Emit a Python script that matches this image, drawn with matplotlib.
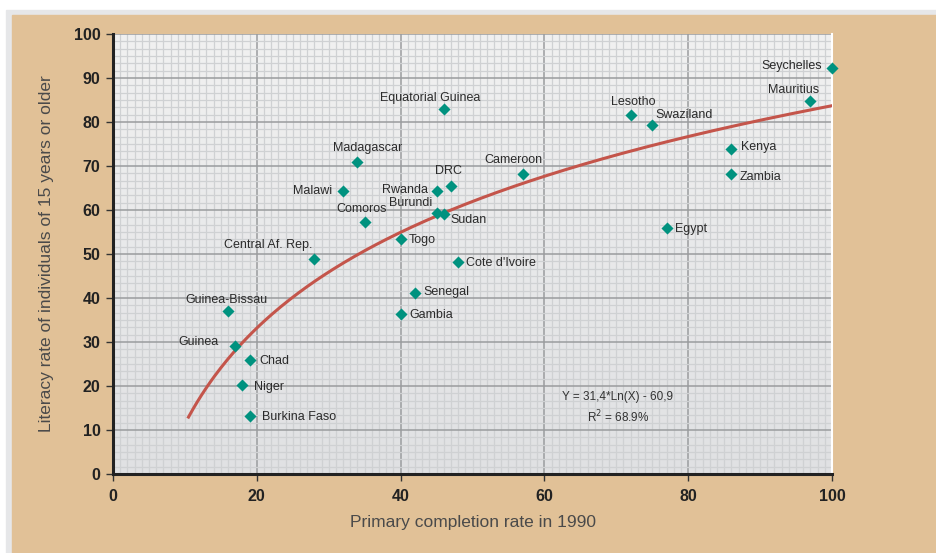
import numpy as np
import matplotlib.pyplot as plt
from matplotlib.ticker import MultipleLocator
from matplotlib.colors import LinearSegmentedColormap

countries = ['Seychelles', 'Mauritius', 'Lesotho', 'Swaziland', 'Kenya', 'Zambia',
             'Egypt', 'Equatorial Guinea', 'Cameroon', 'Madagascar', 'Malawi',
             'Rwanda', 'DRC', 'Burundi', 'Sudan', 'Comoros', 'Togo',
             'Central Af. Rep.', "Cote d'Ivoire", 'Senegal', 'Gambia',
             'Guinea-Bissau', 'Guinea', 'Chad', 'Niger', 'Burkina Faso']
completion = [100, 97, 72, 75, 86, 86, 77, 46, 57, 34, 32, 45, 47, 45, 46, 35, 40,
              28, 48, 42, 40, 16, 17, 19, 18, 19]
literacy = [92.3, 84.8, 81.6, 79.3, 73.9, 68.2, 55.9, 83, 68.2, 70.9, 64.3, 64.3,
            65.5, 59.3, 59.1, 57.3, 53.4, 48.9, 48.2, 41.1, 36.4, 37, 29.1, 25.9,
            20.2, 13.2]

# fitted curve y = a*ln(x) + b
fit_a = 31.4
fit_b = -60.9

# label offsets in points (dx, dy, ha)
label_pos = {
    'Seychelles': (-7, 1, 'right'), 'Mauritius': (-12, 8, 'center'),
    'Lesotho': (2, 9, 'center'), 'Swaziland': (2, 7, 'left'),
    'Kenya': (7, 1, 'left'), 'Zambia': (6, -2, 'left'), 'Egypt': (6, -1, 'left'),
    'Equatorial Guinea': (-10, 8, 'center'), 'Cameroon': (-7, 10, 'center'),
    'Madagascar': (7, 10, 'center'), 'Malawi': (-8, 0, 'right'),
    'Rwanda': (-6, 1, 'right'), 'DRC': (-2, 11, 'center'),
    'Burundi': (-19, 7, 'center'), 'Sudan': (5, -4, 'left'),
    'Comoros': (-2, 9, 'center'), 'Togo': (6, -1, 'left'),
    'Central Af. Rep.': (-33, 10, 'center'), "Cote d'Ivoire": (6, -1, 'left'),
    'Senegal': (6, 1, 'left'), 'Gambia': (6, -1, 'left'),
    'Guinea-Bissau': (-1, 8, 'center'), 'Guinea': (-12, 3, 'right'),
    'Chad': (7, -1, 'left'), 'Niger': (8, -1, 'left'), 'Burkina Faso': (9, -1, 'left'),
}

plt.rcParams['font.family'] = ['Liberation Sans Narrow', 'Liberation Sans', 'DejaVu Sans']

fig = plt.figure(figsize=(9.36, 5.53), dpi=100, facecolor='white')
# outer panel
fig.patches.append(plt.Rectangle((6 / 936, 0), 1, 1 - 10 / 553, transform=fig.transFigure,
                                 color='#E6E7E9', zorder=-3))
fig.patches.append(plt.Rectangle((12 / 936, 0), 1, 1 - 15 / 553, transform=fig.transFigure,
                                 color='#E1C197', zorder=-2))

ax = fig.add_axes([113 / 936, 1 - 474 / 553, 719 / 936, 440 / 553])

# background gradient
cmap = LinearSegmentedColormap.from_list('bg', ['#E0E1E3', '#F1F1F1'])
ax.imshow(np.linspace(0, 1, 256).reshape(-1, 1), cmap=cmap, origin='lower', aspect='auto',
          extent=(0, 100, 0, 100), zorder=-1)

ax.set_xlim(0, 100)
ax.set_ylim(0, 100)
ax.xaxis.set_major_locator(MultipleLocator(20))
ax.yaxis.set_major_locator(MultipleLocator(10))
ax.xaxis.set_minor_locator(MultipleLocator(1))
ax.yaxis.set_minor_locator(MultipleLocator(10 / 6))
ax.grid(which='minor', color='#CFD1D3', linewidth=0.9, zorder=0)
ax.grid(which='major', color='#9A9C9E', linewidth=1.1, zorder=0)
ax.set_axisbelow(True)
ax.tick_params(which='minor', length=0)
ax.tick_params(which='major', length=5, width=1, color='#333333', direction='out',
               labelsize=11.5, labelcolor='#222222', pad=4)
ax.tick_params(axis='x', pad=6)
for lab in ax.get_xticklabels() + ax.get_yticklabels():
    lab.set_fontweight('bold')
    lab.set_family(['Liberation Sans', 'DejaVu Sans'])

ax.spines['left'].set_linewidth(2.2)
ax.spines['bottom'].set_linewidth(2.2)
ax.spines['left'].set_color('#222222')
ax.spines['bottom'].set_color('#222222')
ax.spines['top'].set_visible(False)
ax.spines['right'].set_color('white')
ax.spines['right'].set_linewidth(1.5)

xs = np.linspace(10.5, 100, 300)
ax.plot(xs, fit_a * np.log(xs) + fit_b, color='#C4554B', linewidth=2.2, zorder=3)

ax.scatter(completion, literacy, marker='D', s=38, color='#00927F', zorder=4,
           linewidths=0, clip_on=False)

for name, x, y in zip(countries, completion, literacy):
    dx, dy, ha = label_pos[name]
    ax.annotate(name, (x, y), xytext=(dx, dy), textcoords='offset points',
                ha=ha, va='center', fontsize=9, color='#2B2B2B', zorder=5)

ax.text(70.1, 17.5, 'Y = 31,4*Ln(X) - 60,9', ha='center', va='center', fontsize=8.5,
        color='#333333')
ax.text(70.3, 13, 'R$^{2}$ = 68.9%', ha='center', va='center', fontsize=8.5,
        color='#333333')

ax.set_xlabel('Primary completion rate in 1990', fontsize=12.5, color='#4A4A4A',
              labelpad=8)
ax.set_ylabel('Literacy rate of individuals of 15 years or older', fontsize=12.5,
              color='#4A4A4A', labelpad=14)

fig.savefig('out.png', dpi=100)
